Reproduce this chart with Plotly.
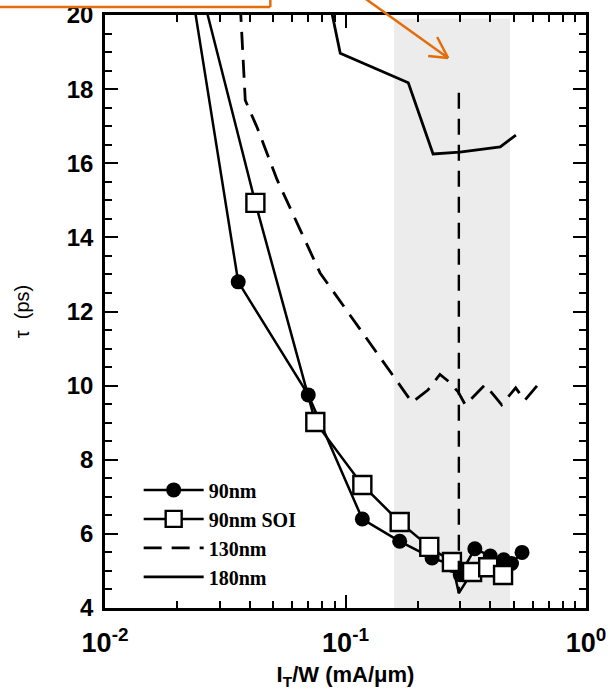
import plotly.graph_objects as go

# ---- data ----
x_90 = [0.0229, 0.0358, 0.070, 0.1175, 0.168, 0.229, 0.28, 0.30, 0.345, 0.40, 0.455, 0.49, 0.542]
t_90 = [20.7, 12.8, 9.75, 6.4, 5.8, 5.35, 5.15, 4.9, 5.6, 5.4, 5.3, 5.2, 5.5]

x_soi = [0.0251, 0.0422, 0.0749, 0.1175, 0.168, 0.223, 0.277, 0.296, 0.336, 0.392, 0.452]
t_soi = [20.7, 14.93, 9.02, 7.32, 6.32, 5.65, 5.24, 4.4, 4.97, 5.1, 4.89]
soi_marked = [0, 1, 2, 3, 4, 5, 6, 8, 9, 10]

x_130 = [0.0365, 0.0383, 0.043, 0.052, 0.0784, 0.1348, 0.169, 0.189, 0.22, 0.247,
         0.27, 0.294, 0.315, 0.38, 0.42, 0.446, 0.51, 0.556, 0.64]
t_130 = [20.3, 17.7, 16.95, 15.55, 13.04, 10.88, 10.0, 9.55, 9.88, 10.3,
         10.1, 9.83, 9.48, 10.02, 9.69, 9.48, 9.94, 9.6, 10.07]

x_180 = [0.0837, 0.0951, 0.1824, 0.2313, 0.2986, 0.35, 0.44, 0.511]
t_180 = [20.7, 18.97, 18.17, 16.25, 16.30, 16.36, 16.44, 16.76]

shade_x = [0.1594, 0.483]
shade_t = [4.0, 19.9]
vline_x = [0.296, 0.296]
vline_t = [17.9, 4.4]

x_tickvals = [0.01, 0.1, 1]
x_ticktext = ["10<sup>-2</sup>", "10<sup>-1</sup>", "10<sup>0</sup>"]
x_minor_vals = [0.02, 0.03, 0.04, 0.05, 0.06, 0.07, 0.08, 0.09,
                0.2, 0.3, 0.4, 0.5, 0.6, 0.7, 0.8, 0.9]
y_tickvals = [4, 6, 8, 10, 12, 14, 16, 18, 20]
y_minor_vals = [4.5, 5, 5.5, 6.5, 7, 7.5, 8.5, 9, 9.5, 10.5, 11, 11.5, 12.5, 13, 13.5,
                14.5, 15, 15.5, 16.5, 17, 17.5, 18.5, 19, 19.5]

ORANGE = "#E46C0A"

fig = go.Figure()

fig.add_trace(go.Scatter(x=x_90, y=t_90, mode="lines+markers", name="90nm",
                         line=dict(color="black", width=2.5),
                         marker=dict(symbol="circle", size=15, color="black")))
fig.add_trace(go.Scatter(x=x_soi, y=t_soi, mode="lines+markers", name="90nm SOI",
                         line=dict(color="black", width=2.5),
                         selectedpoints=soi_marked,
                         selected=dict(marker=dict(opacity=1)),
                         unselected=dict(marker=dict(opacity=0)),
                         marker=dict(symbol="square", size=18, color="white",
                                     line=dict(color="black", width=2.4))))
fig.add_trace(go.Scatter(x=x_130, y=t_130, mode="lines", name="130nm",
                         line=dict(color="black", width=2.8, dash="18px,10px")))
fig.add_trace(go.Scatter(x=x_180, y=t_180, mode="lines", name="180nm",
                         line=dict(color="black", width=2.8)))
fig.add_trace(go.Scatter(x=vline_x, y=vline_t, mode="lines", showlegend=False,
                         xaxis="x2", yaxis="y2",
                         line=dict(color="black", width=2.4, dash="16px,10px")))

shapes = [
    dict(type="rect", xref="x", yref="y", x0=shade_x[0], x1=shade_x[1],
         y0=shade_t[0], y1=shade_t[1], fillcolor="#ececec", line=dict(width=0),
         layer="below"),
]

# orange decorations (paper coordinates)
def px2paper(px, py):
    return (px - 104.5) / 481.5, (608 - py) / 593

def pline(p0, p1):
    x0, y0 = px2paper(*p0)
    x1, y1 = px2paper(*p1)
    return dict(type="line", xref="paper", yref="paper", x0=x0, y0=y0, x1=x1, y1=y1,
                line=dict(color=ORANGE, width=2.5))

shapes += [
    pline((-5, 7), (270, 7)),
    pline((270, 7), (270, -10)),
    pline((360, -5), (448, 58)),
    pline((448, 58), (437, 37)),
    pline((448, 58), (428, 56)),
]

tick_common = dict(ticks="inside", ticklen=13, tickwidth=2, tickcolor="black",
                   showline=True, linecolor="black", linewidth=2.5,
                   showgrid=False, zeroline=False, automargin=False)
minor_x = dict(ticks="inside", ticklen=7, tickwidth=1.5, tickcolor="black",
               dtick="D1", showgrid=False)
minor_y = dict(ticks="inside", ticklen=7, tickwidth=1.5, tickcolor="black",
               dtick=0.5, showgrid=False)
mirror_minor = dict(tick_common)
mirror_minor.update(ticklen=7, tickwidth=1.5)

fig.update_layout(
    width=610, height=690,
    margin=dict(l=104.5, r=24, t=15, b=82, autoexpand=False),
    paper_bgcolor="white", plot_bgcolor="white",
    shapes=shapes,
    showlegend=True,
    legend=dict(x=0.07, y=0.232, xanchor="left", yanchor="top",
                bgcolor="rgba(0,0,0,0)",
                font=dict(family="Liberation Serif, Times New Roman, serif", size=20,
                          color="black", weight="bold"),
                tracegroupgap=0, itemwidth=60),
    xaxis=dict(
        type="log", range=[-2, 0], mirror="ticks",
        tickvals=x_tickvals, ticktext=x_ticktext, minor=minor_x,
        tickfont=dict(family="Liberation Sans, Arial, sans-serif", size=27,
                      color="black", weight="bold"),
        ticklabelstandoff=9,
        title=dict(text="I<sub>T</sub>/W (mA/\u03bcm)",
                   font=dict(family="Liberation Sans, Arial, sans-serif", size=22,
                             color="black", weight="bold"),
                   standoff=12),
        **tick_common,
    ),
    yaxis=dict(
        range=[4, 20], tickvals=y_tickvals, minor=minor_y, mirror="ticks",
        tickfont=dict(family="Liberation Sans, Arial, sans-serif", size=24,
                      color="black", weight="bold"),
        ticklabelstandoff=4,
        title=dict(text="\u03c4  (ps)",
                   font=dict(family="Liberation Sans, Arial, sans-serif", size=20,
                             color="#000000"),
                   standoff=32),
        **tick_common,
    ),
    xaxis2=dict(
        type="log", range=[-2, 0], overlaying="x", side="top", anchor="y2",
        tickvals=x_minor_vals, showticklabels=False,
        **mirror_minor,
    ),
    yaxis2=dict(
        range=[4, 20], overlaying="y", side="right", anchor="x2",
        tickvals=y_minor_vals, showticklabels=False,
        **mirror_minor,
    ),
)

fig.write_html("out.html")
